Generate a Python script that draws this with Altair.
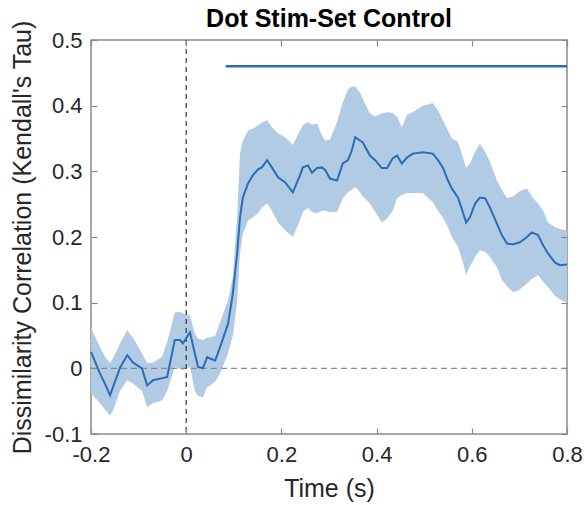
import altair as alt
import pandas as pd

time = [-0.200, -0.181, -0.171, -0.160, -0.154, -0.139, -0.124, -0.112, -0.093, -0.082,
        -0.070, -0.051, -0.040, -0.024, -0.013, -0.007, 0.008, 0.018, 0.025, 0.035,
        0.044, 0.050, 0.061, 0.071, 0.088, 0.098, 0.107, 0.113, 0.119, 0.130,
        0.140, 0.151, 0.159, 0.170, 0.180, 0.193, 0.208, 0.224, 0.239, 0.245,
        0.256, 0.264, 0.275, 0.285, 0.292, 0.302, 0.317, 0.329, 0.340, 0.348,
        0.355, 0.365, 0.371, 0.386, 0.397, 0.411, 0.422, 0.434, 0.443, 0.453,
        0.464, 0.476, 0.497, 0.518, 0.529, 0.539, 0.550, 0.558, 0.571, 0.582,
        0.588, 0.596, 0.607, 0.617, 0.628, 0.638, 0.653, 0.663, 0.674, 0.687,
        0.701, 0.716, 0.726, 0.739, 0.750, 0.760, 0.775, 0.785, 0.800]
mean = [0.025, -0.008, -0.023, -0.041, -0.029, 0.001, 0.020, 0.009, 0.000, -0.026,
        -0.018, -0.015, -0.013, 0.043, 0.043, 0.038, 0.055, 0.023, 0.002, 0.000,
        0.017, 0.015, 0.012, 0.032, 0.068, 0.114, 0.175, 0.230, 0.260, 0.282,
        0.294, 0.303, 0.306, 0.317, 0.306, 0.291, 0.283, 0.268, 0.294, 0.306,
        0.309, 0.298, 0.305, 0.306, 0.302, 0.289, 0.286, 0.312, 0.317, 0.332,
        0.352, 0.347, 0.344, 0.324, 0.317, 0.305, 0.305, 0.320, 0.324, 0.312,
        0.321, 0.327, 0.329, 0.327, 0.317, 0.306, 0.286, 0.274, 0.260, 0.236,
        0.222, 0.230, 0.251, 0.260, 0.259, 0.245, 0.220, 0.203, 0.190, 0.189,
        0.192, 0.200, 0.207, 0.203, 0.187, 0.175, 0.161, 0.157, 0.158]
upper = [0.062, 0.032, 0.018, 0.008, 0.015, 0.038, 0.058, 0.047, 0.023, 0.008,
         0.009, 0.017, 0.040, 0.085, 0.086, 0.084, 0.081, 0.053, 0.045, 0.043,
         0.047, 0.047, 0.050, 0.070, 0.104, 0.140, 0.230, 0.327, 0.347, 0.362,
         0.365, 0.370, 0.374, 0.378, 0.367, 0.358, 0.352, 0.340, 0.362, 0.370,
         0.375, 0.371, 0.373, 0.355, 0.347, 0.348, 0.375, 0.405, 0.425, 0.429,
         0.429, 0.420, 0.410, 0.388, 0.384, 0.388, 0.390, 0.389, 0.383, 0.367,
         0.386, 0.390, 0.400, 0.404, 0.393, 0.378, 0.362, 0.350, 0.345, 0.320,
         0.305, 0.312, 0.330, 0.342, 0.330, 0.315, 0.286, 0.272, 0.259, 0.262,
         0.270, 0.274, 0.262, 0.251, 0.240, 0.222, 0.215, 0.212, 0.210]
lower = [-0.038, -0.053, -0.062, -0.072, -0.065, -0.034, -0.018, -0.023, -0.034, -0.059,
         -0.053, -0.049, -0.035, 0.002, -0.001, -0.003, 0.002, -0.034, -0.042, -0.044,
         -0.029, -0.026, -0.020, -0.008, 0.023, 0.050, 0.100, 0.175, 0.205, 0.225,
         0.230, 0.236, 0.245, 0.251, 0.240, 0.222, 0.210, 0.200, 0.225, 0.238,
         0.244, 0.238, 0.236, 0.240, 0.240, 0.238, 0.238, 0.259, 0.268, 0.272,
         0.276, 0.268, 0.262, 0.251, 0.238, 0.222, 0.228, 0.240, 0.259, 0.264,
         0.267, 0.267, 0.267, 0.253, 0.240, 0.230, 0.215, 0.200, 0.185, 0.160,
         0.142, 0.155, 0.170, 0.180, 0.177, 0.170, 0.154, 0.135, 0.125, 0.116,
         0.120, 0.129, 0.136, 0.142, 0.132, 0.124, 0.110, 0.105, 0.100]

sig_start = [0.083]
sig_end = [0.800]
sig_level = [0.46]

ref_x = [0.0]
ref_y = [0.0]

x_ticks = [-0.2, 0, 0.2, 0.4, 0.6, 0.8]
y_ticks = [-0.1, 0, 0.1, 0.2, 0.3, 0.4, 0.5]

df = pd.DataFrame({"t": time, "m": mean, "hi": upper, "lo": lower})
sig = pd.DataFrame({"s": sig_start, "e": sig_end, "y": sig_level})
ref = pd.DataFrame({"rx": ref_x, "ry": ref_y})

FONT = "Liberation Sans"
BLUE = "#2a6db8"
BAND = "#b1cbe5"
AXC = "#8a8a8a"
TXT = "#262626"

xscale = alt.Scale(domain=[-0.2, 0.8], nice=False, zero=False)
yscale = alt.Scale(domain=[-0.1, 0.5], nice=False, zero=False)
lab = "datum.value == 0 ? '0' : toString(datum.value)"

common = dict(domain=False, ticks=True, tickSize=6, offset=-6, tickColor=AXC,
              tickWidth=1.2, grid=False, zindex=1)

x_bottom = alt.Axis(values=x_ticks, labelExpr=lab, labelFont=FONT, labelFontSize=22,
                    labelColor=TXT, labelPadding=10, labelFlush=False,
                    titleFont=FONT, titleFontSize=25,
                    titleFontWeight="normal", titleColor=TXT, titlePadding=11,
                    **common)
y_left = alt.Axis(values=y_ticks, labelExpr=lab, labelFont=FONT, labelFontSize=22,
                  labelColor=TXT, labelPadding=9, labelFlush=False,
                  titleFont=FONT, titleFontSize=25,
                  titleFontWeight="normal", titleColor=TXT, titlePadding=9,
                  **common)
x_top = alt.Axis(orient="top", values=x_ticks, labels=False, title=None, **common)
y_right = alt.Axis(orient="right", values=y_ticks, labels=False, title=None, **common)

band = alt.Chart(df).mark_area(color=BAND, opacity=1).encode(
    x=alt.X("t:Q", scale=xscale, axis=x_bottom, title="Time (s)"),
    y=alt.Y("lo:Q", scale=yscale, axis=y_left,
            title="Dissimilarity Correlation (Kendall's Tau)"),
    y2="hi:Q",
)

zero_h = alt.Chart(ref).mark_rule(color="#8c8c8c", strokeDash=[6, 4], strokeWidth=1.2).encode(
    y=alt.Y("ry:Q", scale=yscale, axis=None), x=alt.value(0), x2=alt.value(476)
)
zero_v = alt.Chart(ref).mark_rule(color="#333333", strokeDash=[5, 4], strokeWidth=1.2).encode(
    x=alt.X("rx:Q", scale=xscale, axis=None), y=alt.value(0), y2=alt.value(394)
)

line = alt.Chart(df).mark_line(color=BLUE, strokeWidth=2).encode(
    x=alt.X("t:Q", scale=xscale, axis=x_top),
    y=alt.Y("m:Q", scale=yscale, axis=y_right),
)

sigline = alt.Chart(sig).mark_rule(color=BLUE, strokeWidth=2.5).encode(
    x=alt.X("s:Q", scale=xscale, axis=None),
    x2="e:Q",
    y=alt.Y("y:Q", scale=yscale, axis=None),
)

chart = alt.layer(band, zero_h, zero_v, line, sigline).resolve_axis(
    x="independent", y="independent"
).properties(
    width=476,
    height=394,
    padding={"left": 91, "top": 40, "right": 18, "bottom": 71},
    autosize=alt.AutoSizeParams(type="none"),
    title=alt.TitleParams("Dot Stim-Set Control", font=FONT, fontSize=25,
                          fontWeight="bold", color="#000000", offset=-12),
    background="white",
).configure_view(stroke=AXC, strokeWidth=1.5)

chart.save("out.html", embed_options={"renderer": "svg", "actions": False})
